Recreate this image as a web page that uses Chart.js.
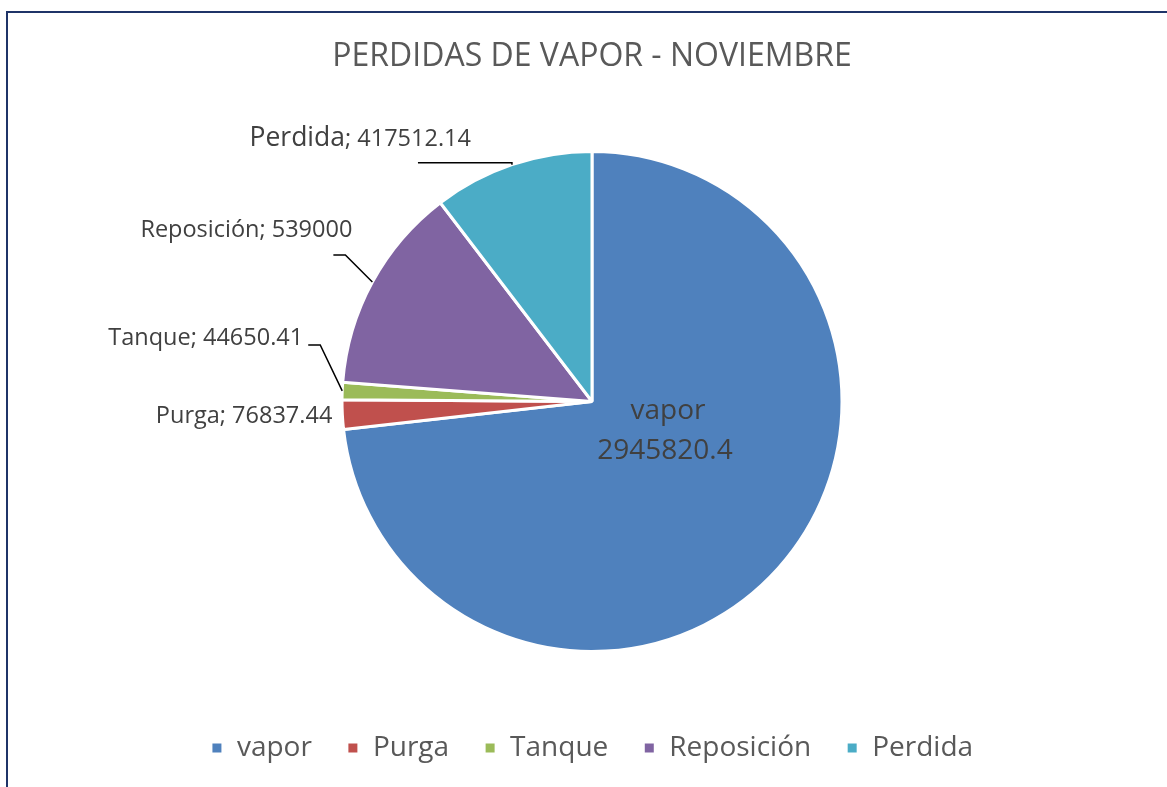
<!DOCTYPE html>
<html>
<head>
<meta charset="utf-8">
<script src="https://cdn.jsdelivr.net/npm/chart.js@4.4.1/dist/chart.umd.min.js"></script>
<style>
html,body{margin:0;padding:0;background:#fff;overflow:hidden;width:1167px;height:787px;}
#marco{position:absolute;left:6px;top:11px;width:1300px;height:900px;border-top:2px solid #1f3468;border-left:2px solid #1f3468;}
#caja{position:absolute;left:0;top:0;width:1167px;height:772px;}
</style>
</head>
<body>
<div id="marco"></div>
<div id="caja"><canvas id="grafica-pastel"></canvas></div>
<script>
// datos del grafico
var categorias=["vapor","Purga","Tanque","Reposición","Perdida"];
var valores=[2945820.4,76837.44,44650.41,539000,417512.14];
var colores=["#4F81BD","#C0504D","#9BBB59","#8064A2","#4BACC6"];

Chart.defaults.font.family="'Open Sans', sans-serif";

// donde va cada etiqueta, relativo al borde de su rebanada
var estiloEtiquetas=[
  {dentro:true, d1:[76,10], d2:[73,50]},
  {codo:null, tx:-10, ty:2},
  {codo:[-22,-46], largo:12, tx:-5, ty:-7},
  {codo:[-27,-27], largo:12, tx:19, ty:-25},
  {codo:[0,-2], largo:94, tx:53, ty:-24, grande:true}
];

var etiquetasPastel={
  id:"etiquetasPastel",
  afterDatasetsDraw:function(chart){
    var ctx=chart.ctx;
    var meta=chart.getDatasetMeta(0);
    ctx.save();
    meta.data.forEach(function(arco,i){
      var p=arco.getProps(["x","y","startAngle","endAngle","outerRadius"],true);
      var est=estiloEtiquetas[i];
      var texto=String(valores[i]);
      if(est.dentro){
        ctx.fillStyle="#404040";
        ctx.font="28px 'Open Sans'";
        ctx.textAlign="center";ctx.textBaseline="middle";
        ctx.fillText(categorias[i],p.x+est.d1[0],p.y+est.d1[1]);
        ctx.fillText(texto,p.x+est.d2[0],p.y+est.d2[1]);
        return;
      }
      var medio=(p.startAngle+p.endAngle)/2;
      var x0=p.x+Math.cos(medio)*p.outerRadius;
      var y0=p.y+Math.sin(medio)*p.outerRadius;
      var fx=x0,fy=y0;
      if(est.codo){
        var cx=x0+est.codo[0],cy=y0+est.codo[1];
        fx=cx-est.largo;fy=cy;
        ctx.strokeStyle="#000";ctx.lineWidth=1.5;
        ctx.beginPath();ctx.moveTo(x0,y0);ctx.lineTo(cx,cy);ctx.lineTo(fx,fy);ctx.stroke();
      }
      var tx=fx+est.tx,ty=fy+est.ty;
      ctx.fillStyle="#404040";
      ctx.textBaseline="middle";ctx.textAlign="right";
      if(est.grande){
        ctx.font="23.5px 'Open Sans'";
        var resto="; "+texto;
        ctx.fillText(resto,tx,ty+1);
        var w=ctx.measureText(resto).width;
        ctx.font="26.5px 'Open Sans'";
        ctx.fillText(categorias[i],tx-w,ty);
      }else{
        ctx.font="23.5px 'Open Sans'";
        ctx.fillText(categorias[i]+"; "+texto,tx,ty);
      }
    });
    ctx.restore();
  }
};

var graficapastel=new Chart(document.getElementById("grafica-pastel"),{
  type:"pie",
  data:{
    labels:categorias,
    datasets:[{
      data:valores,
      backgroundColor:colores,
      borderColor:"#ffffff",
      borderWidth:3,
      radius:250
    }]
  },
  options:{
    responsive:true,
    maintainAspectRatio:false,
    animation:false,
    layout:{padding:{left:17}},
    plugins:{
      title:{
        display:true,
        text:"PERDIDAS DE VAPOR - NOVIEMBRE",
        color:"#595959",
        font:{size:32,weight:"normal"},
        padding:{top:38,bottom:27.6}
      },
      legend:{
        position:"bottom",
        labels:{
          color:"#595959",
          font:{size:28},
          boxWidth:12,
          boxHeight:12,
          padding:35
        }
      },
      tooltip:{enabled:false}
    }
  },
  plugins:[etiquetasPastel]
});
</script>
</body>
</html>
